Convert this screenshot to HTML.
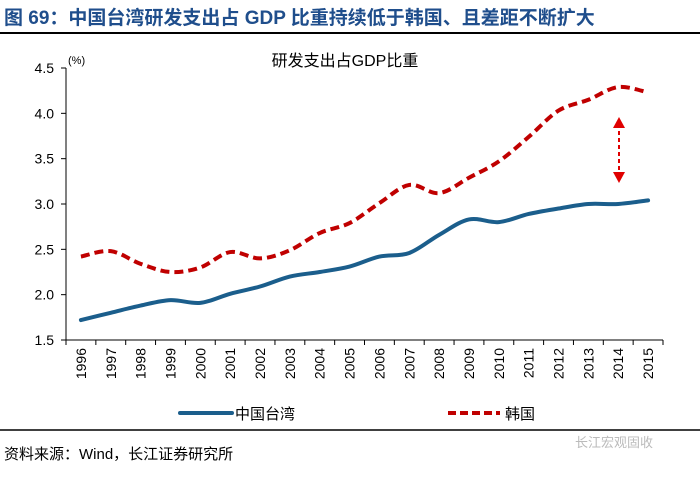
<!DOCTYPE html>
<html><head><meta charset="utf-8"><style>
body{margin:0;background:#fff;width:700px;height:472px;overflow:hidden;font-family:"Liberation Sans","Noto Sans CJK SC",sans-serif}
</style></head><body>
<svg id="c" width="700" height="472" xmlns="http://www.w3.org/2000/svg" font-family="Liberation Sans, Noto Sans CJK SC, sans-serif">
<text x="4" y="24" font-size="19" font-weight="bold" fill="#1f4e8c">图 69：中国台湾研发支出占 GDP 比重持续低于韩国、且差距不断扩大</text>
<line x1="0" y1="33" x2="700" y2="33" stroke="#000" stroke-width="2"/>
<text x="345" y="66" font-size="16" text-anchor="middle">研发支出占GDP比重</text>
<text x="68" y="64" font-size="11">(%)</text>
<g id="axes"></g><g id="series"></g>
<line x1="180" y1="413" x2="232" y2="413" stroke="#1b5e8c" stroke-width="4" stroke-linecap="round"/>
<text x="235" y="419" font-size="15">中国台湾</text>
<line x1="448" y1="413" x2="500" y2="413" stroke="#c00000" stroke-width="4" stroke-dasharray="8,4"/>
<text x="505" y="419" font-size="15">韩国</text>
<line x1="0" y1="430" x2="700" y2="430" stroke="#000" stroke-width="1.5"/>
<text x="4" y="459" font-size="15">资料来源：Wind，长江证券研究所</text>
<text x="575" y="447" font-size="13" fill="#bbb">长江宏观固收</text>
<line x1="619" y1="124" x2="619" y2="176" stroke="#e00000" stroke-width="2" stroke-dasharray="4,3"/>
<polygon points="613,128 625,128 619,117" fill="#e00000"/>
<polygon points="613,172 625,172 619,183" fill="#e00000"/>
</svg>
<script>
const years=['1996','1997','1998','1999','2000','2001','2002','2003','2004','2005','2006','2007','2008','2009','2010','2011','2012','2013','2014','2015'];
const taiwan=[1.72,1.80,1.88,1.94,1.91,2.01,2.09,2.20,2.25,2.31,2.42,2.46,2.66,2.83,2.80,2.89,2.95,3.00,3.00,3.04];
const korea=[2.42,2.48,2.34,2.25,2.30,2.47,2.40,2.49,2.68,2.79,3.01,3.21,3.12,3.29,3.47,3.74,4.03,4.15,4.29,4.23];
const yTicks=[1.5,2.0,2.5,3.0,3.5,4.0,4.5];
const NS='http://www.w3.org/2000/svg';
const x0=66,x1=663,yb=340,yt=68,vmin=1.5,vmax=4.5;
const step=(x1-x0)/years.length;
const X=i=>x0+step*(i+0.5);
const Y=v=>yb-(v-vmin)/(vmax-vmin)*(yb-yt);
function mk(t,a,p){const e=document.createElementNS(NS,t);for(const k in a)e.setAttribute(k,a[k]);p.appendChild(e);return e;}
const ax=document.getElementById('axes');
let l=mk('line',{x1:x0,y1:yt,x2:x0,y2:yb,stroke:'#000'},ax);


l=mk('line',{x1:x0,y1:yb,x2:x1,y2:yb,stroke:'#000'},ax);


yTicks.forEach(v=>{
 const t=mk('line',{x1:x0-5,y1:Y(v),x2:x0,y2:Y(v),stroke:'#000'},ax);
 
 
 const tx=mk('text',{x:x0-12,y:Y(v)+5,'font-size':14,'text-anchor':'end'},ax);
 tx.textContent=v.toFixed(1);
 
 
});
for(let i=0;i<=years.length;i++){
 const t=mk('line',{x1:x0+step*i,y1:yb,x2:x0+step*i,y2:yb+5,stroke:'#000'},ax);
 
 
}
years.forEach((y,i)=>{
 const tx=mk('text',{x:0,y:0,'font-size':14,'text-anchor':'end',transform:`translate(${X(i)+5},${yb+8}) rotate(-90)`},ax);
 tx.textContent=y;
 
 
});
function smooth(vals){
 const p=vals.map((v,i)=>[X(i),Y(v)]);
 let d=`M${p[0][0]},${p[0][1]}`;
 for(let i=0;i<p.length-1;i++){
  const a=p[i-1]||p[i],b=p[i],c=p[i+1],e=p[i+2]||c;
  d+=` C${b[0]+(c[0]-a[0])/6},${b[1]+(c[1]-a[1])/6} ${c[0]-(e[0]-b[0])/6},${c[1]-(e[1]-b[1])/6} ${c[0]},${c[1]}`;
 }
 return d;
}
const sg=document.getElementById('series');
let s=mk('path',{d:smooth(taiwan),fill:'none',stroke:'#1b5e8c','stroke-width':4,'stroke-linecap':'round'},sg);


s=mk('path',{d:smooth(korea),fill:'none',stroke:'#c00000','stroke-width':4,'stroke-dasharray':'9,5'},sg);


</script>
</body></html>
